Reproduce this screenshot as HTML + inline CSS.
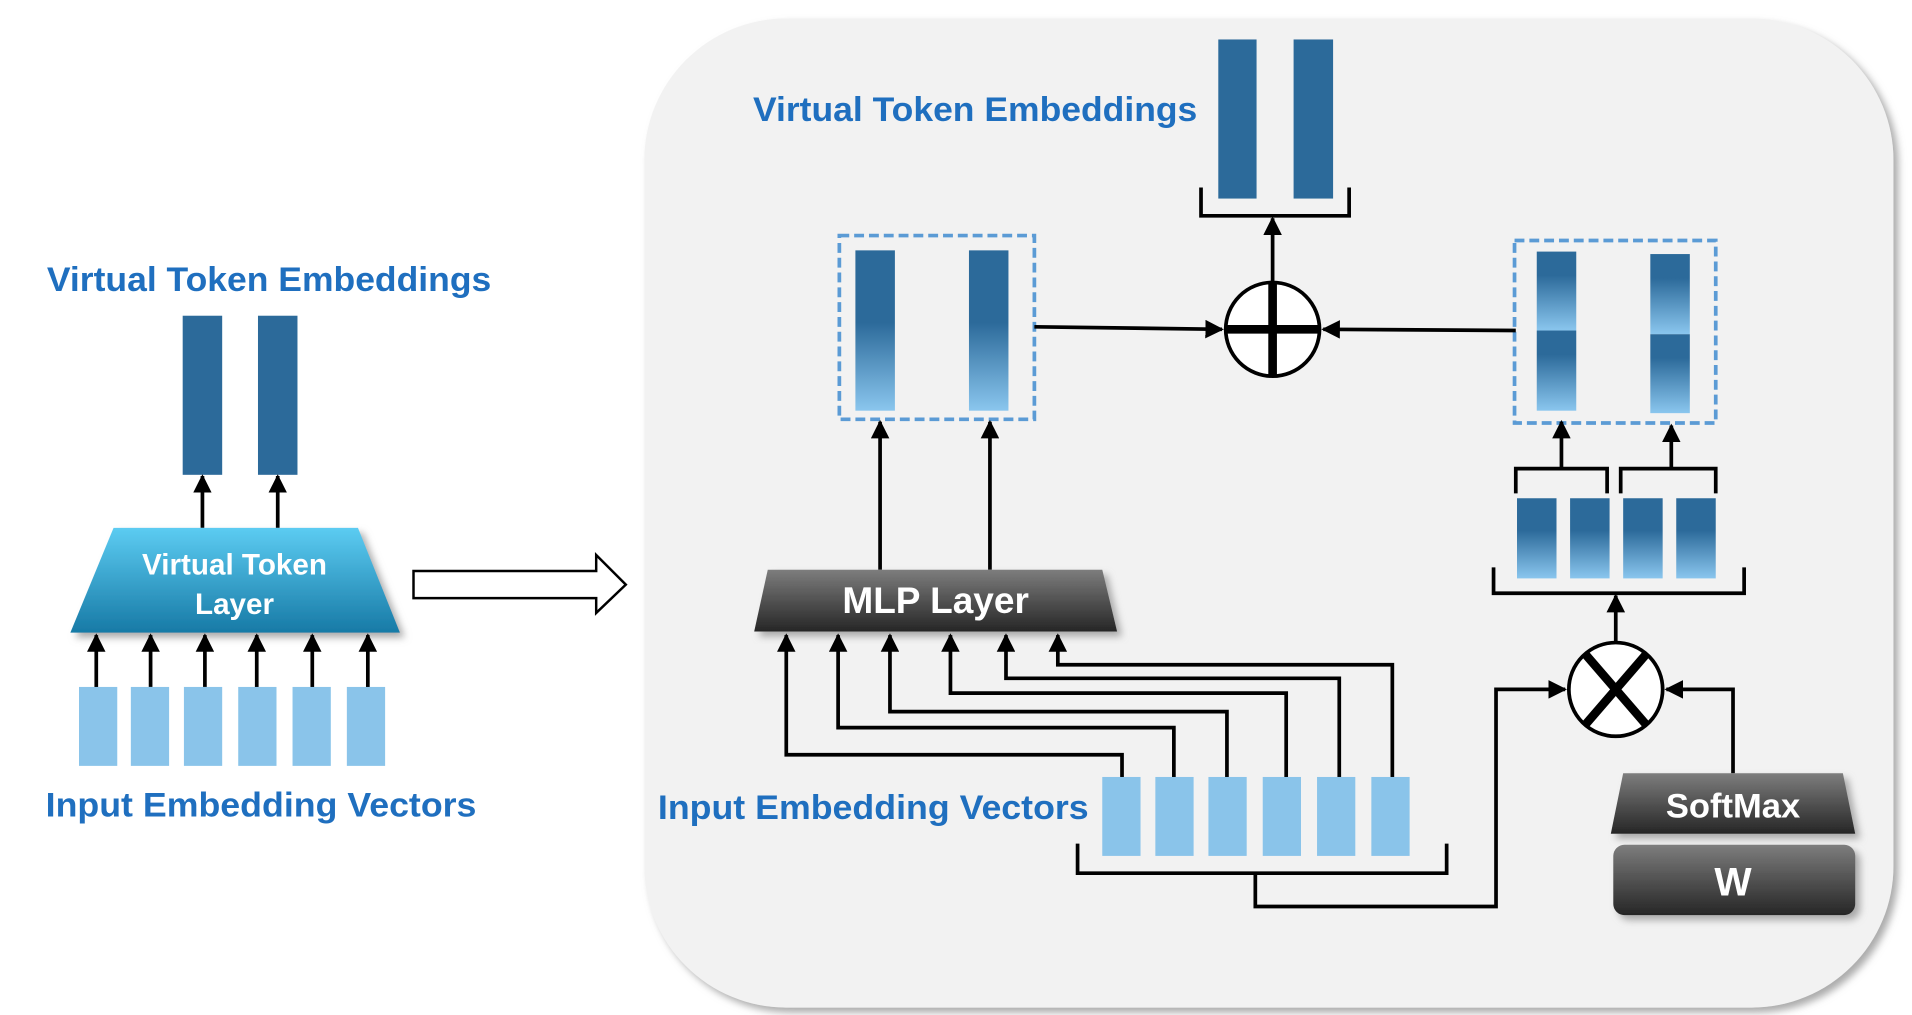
<!DOCTYPE html>
<html><head><meta charset="utf-8"><style>html,body{margin:0;padding:0;background:#fff}svg{display:block}</style></head>
<body>
<svg width="1912" height="1015" viewBox="0 0 1549 823" preserveAspectRatio="none" xmlns="http://www.w3.org/2000/svg">
<defs>
<marker id="ah" viewBox="0 0 10 10" refX="9" refY="5" markerWidth="5" markerHeight="5" orient="auto-start-reverse"><path d="M0,0 L10,5 L0,10 z" fill="#000"/></marker>
<linearGradient id="cy" x1="0" y1="0" x2="0" y2="1"><stop offset="0" stop-color="#5cccf2"/><stop offset="1" stop-color="#177aa6"/></linearGradient>
<linearGradient id="gr" x1="0" y1="0" x2="0" y2="1"><stop offset="0" stop-color="#7d7d7d"/><stop offset="1" stop-color="#262626"/></linearGradient>
<linearGradient id="fd" x1="0" y1="0" x2="0" y2="1"><stop offset="0" stop-color="#2c6a9a"/><stop offset="0.45" stop-color="#2c6a9a"/><stop offset="1" stop-color="#8ac6ee"/></linearGradient>
<linearGradient id="fd2" x1="0" y1="0" x2="0" y2="1"><stop offset="0" stop-color="#2c6a9a"/><stop offset="0.3" stop-color="#2c6a9a"/><stop offset="1" stop-color="#8ac6ee"/></linearGradient>
<linearGradient id="fd3" x1="0" y1="0" x2="0" y2="1"><stop offset="0" stop-color="#2c6a9a"/><stop offset="0.4" stop-color="#2c6a9a"/><stop offset="1" stop-color="#8ac6ee"/></linearGradient>
<filter id="sh" x="-10%" y="-10%" width="130%" height="130%"><feDropShadow dx="4" dy="4" stdDeviation="3" flood-color="#888" flood-opacity="0.7"/></filter>
</defs>
<g font-family="Liberation Sans, sans-serif" font-weight="bold">
<!-- panel -->
<rect x="522" y="15" width="1012" height="802" rx="115" fill="#f2f2f2" filter="url(#sh)"/>

<!-- LEFT -->
<text x="38" y="236" font-size="28" fill="#1f6fbf" textLength="360" lengthAdjust="spacingAndGlyphs">Virtual Token Embeddings</text>
<rect x="148" y="256" width="32" height="129" fill="#2c6a9a"/>
<rect x="209" y="256" width="32" height="129" fill="#2c6a9a"/>
<g stroke="#000" stroke-width="3" fill="none" marker-end="url(#ah)">
<line x1="164" y1="428" x2="164" y2="386"/><line x1="225" y1="428" x2="225" y2="386"/>
</g>
<polygon points="92,428 290,428 324,513 57,513" fill="url(#cy)" filter="url(#sh)"/>
<text x="190" y="466" font-size="24" fill="#fff" text-anchor="middle">Virtual Token</text>
<text x="190" y="498" font-size="24" fill="#fff" text-anchor="middle">Layer</text>
<g stroke="#000" stroke-width="3" fill="none" marker-end="url(#ah)">
<line x1="78" y1="557" x2="78" y2="515"/><line x1="122" y1="557" x2="122" y2="515"/><line x1="166" y1="557" x2="166" y2="515"/>
<line x1="208" y1="557" x2="208" y2="515"/><line x1="253" y1="557" x2="253" y2="515"/><line x1="298" y1="557" x2="298" y2="515"/>
</g>
<g fill="#8ac4ea">
<rect x="64" y="557" width="31" height="64"/><rect x="106" y="557" width="31" height="64"/><rect x="149" y="557" width="31" height="64"/>
<rect x="193" y="557" width="31" height="64"/><rect x="237" y="557" width="31" height="64"/><rect x="281" y="557" width="31" height="64"/>
</g>
<text x="37" y="662" font-size="28" fill="#1f6fbf" textLength="349" lengthAdjust="spacingAndGlyphs">Input Embedding Vectors</text>

<!-- hollow arrow -->
<polygon points="335,463 483,463 483,450 507,474 483,497 483,485 335,485" fill="#fff" stroke="#000" stroke-width="2"/>

<!-- RIGHT top -->
<text x="610" y="98" font-size="28" fill="#1f6fbf" textLength="360" lengthAdjust="spacingAndGlyphs">Virtual Token Embeddings</text>
<rect x="987" y="32" width="31" height="129" fill="#2c6a9a"/>
<rect x="1048" y="32" width="32" height="129" fill="#2c6a9a"/>
<polyline points="973,152 973,175 1093,175 1093,152" fill="none" stroke="#000" stroke-width="3"/>
<line x1="1031" y1="228" x2="1031" y2="177" stroke="#000" stroke-width="3" marker-end="url(#ah)"/>
<circle cx="1031" cy="267" r="38" fill="#fff" stroke="#000" stroke-width="3"/>
<line x1="993" y1="267" x2="1069" y2="267" stroke="#000" stroke-width="7"/>
<line x1="1031" y1="229" x2="1031" y2="305" stroke="#000" stroke-width="7"/>

<rect x="680" y="191" width="158" height="149" fill="none" stroke="#5b9bd5" stroke-width="3" stroke-dasharray="8,4"/>
<rect x="693" y="203" width="32" height="130" fill="url(#fd)"/>
<rect x="785" y="203" width="32" height="130" fill="url(#fd)"/>
<line x1="838" y1="265" x2="990" y2="267" stroke="#000" stroke-width="3" marker-end="url(#ah)"/>

<rect x="1227" y="195" width="163" height="148" fill="none" stroke="#5b9bd5" stroke-width="3" stroke-dasharray="8,4"/>
<rect x="1245" y="204" width="32" height="64" fill="url(#fd2)"/>
<rect x="1245" y="268" width="32" height="65" fill="url(#fd2)"/>
<rect x="1337" y="206" width="32" height="65" fill="url(#fd2)"/>
<rect x="1337" y="271" width="32" height="64" fill="url(#fd2)"/>
<line x1="1228" y1="268" x2="1072" y2="267" stroke="#000" stroke-width="3" marker-end="url(#ah)"/>

<g stroke="#000" stroke-width="3" fill="none">
<line x1="1265" y1="380" x2="1265" y2="342" marker-end="url(#ah)"/>
<line x1="1354" y1="380" x2="1354" y2="345" marker-end="url(#ah)"/>
<polyline points="1228,400 1228,380 1302,380 1302,400"/>
<polyline points="1313,400 1313,380 1390,380 1390,400"/>
<polyline points="1210,460 1210,481 1413,481 1413,460"/>
<line x1="1309" y1="520" x2="1309" y2="483" marker-end="url(#ah)"/>
</g>
<rect x="1229" y="404" width="32" height="65" fill="url(#fd3)"/>
<rect x="1272" y="404" width="32" height="65" fill="url(#fd3)"/>
<rect x="1315" y="404" width="32" height="65" fill="url(#fd3)"/>
<rect x="1358" y="404" width="32" height="65" fill="url(#fd3)"/>

<circle cx="1309" cy="559" r="38" fill="#fff" stroke="#000" stroke-width="3"/>
<line x1="1284" y1="530" x2="1334" y2="588" stroke="#000" stroke-width="7"/>
<line x1="1334" y1="530" x2="1284" y2="588" stroke="#000" stroke-width="7"/>

<!-- MLP -->
<g stroke="#000" stroke-width="3" fill="none" marker-end="url(#ah)">
<line x1="713" y1="462" x2="713" y2="342"/><line x1="802" y1="462" x2="802" y2="342"/>
</g>
<polygon points="622,462 893,462 905,512 611,512" fill="url(#gr)" filter="url(#sh)"/>
<text x="758" y="497" font-size="30" fill="#fff" text-anchor="middle">MLP Layer</text>

<g stroke="#000" stroke-width="3" fill="none" marker-end="url(#ah)">
<polyline points="909,630 909,612 637,612 637,515"/>
<polyline points="951,630 951,590 679,590 679,515"/>
<polyline points="994,630 994,577 721,577 721,515"/>
<polyline points="1042,630 1042,562 770,562 770,515"/>
<polyline points="1085,630 1085,550 815,550 815,515"/>
<polyline points="1128,630 1128,539 857,539 857,515"/>
<polyline points="1017,708 1017,735 1212,735 1212,559 1268,559"/>
<polyline points="1404,627 1404,559 1350,559"/>
</g>
<polyline points="873,684 873,708 1172,708 1172,684" fill="none" stroke="#000" stroke-width="3"/>
<g fill="#8ac4ea">
<rect x="893" y="630" width="31" height="64"/><rect x="936" y="630" width="31" height="64"/><rect x="979" y="630" width="31" height="64"/>
<rect x="1023" y="630" width="31" height="64"/><rect x="1067" y="630" width="31" height="64"/><rect x="1111" y="630" width="31" height="64"/>
</g>
<text x="533" y="664" font-size="28" fill="#1f6fbf" textLength="349" lengthAdjust="spacingAndGlyphs">Input Embedding Vectors</text>

<polygon points="1315,627 1493,627 1503,676 1305,676" fill="url(#gr)" filter="url(#sh)"/>
<text x="1404" y="663" font-size="28" fill="#fff" text-anchor="middle">SoftMax</text>
<rect x="1307" y="685" width="196" height="57" rx="9" fill="url(#gr)" filter="url(#sh)"/>
<text x="1404" y="726" font-size="32" fill="#fff" text-anchor="middle">W</text>
</g>
</svg>
</body></html>
